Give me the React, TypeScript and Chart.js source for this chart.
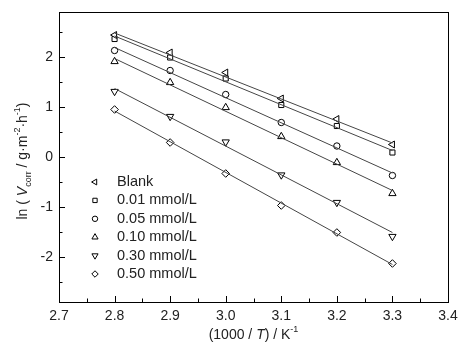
import React, { useEffect, useRef } from 'react';
import { Chart, registerables } from 'chart.js';
import { drawPoint } from 'chart.js/helpers';

Chart.register(...registerables);

const xValues = [2.8, 2.9, 3.0, 3.1, 3.2, 3.3];
const seriesNames = ['Blank', '0.01 mmol/L', '0.05 mmol/L', '0.10 mmol/L', '0.30 mmol/L', '0.50 mmol/L'];
const blank = [2.44, 2.09, 1.69, 1.17, 0.76, 0.25];
const c001 = [2.36, 1.99, 1.57, 1.04, 0.62, 0.09];
const c005 = [2.13, 1.73, 1.25, 0.69, 0.22, -0.37];
const c010 = [1.91, 1.49, 0.99, 0.41, -0.11, -0.73];
const c030 = [1.31, 0.81, 0.3, -0.36, -0.91, -1.59];
const c050 = [0.95, 0.29, -0.33, -0.97, -1.51, -2.13];
const fitX = [2.8, 3.3];
const fitStart = [2.48, 2.42, 2.19, 1.97, 1.37, 0.92];
const fitEnd = [0.28, 0.13, -0.32, -0.67, -1.51, -2.15];
const xMin = 2.7;
const xMax = 3.4;
const yMin = -2.9;
const yMax = 2.9;

const seriesValues = [blank, c001, c005, c010, c030, c050];
const markerStyles = [
  { pointStyle: 'triangle', rotation: 270, radius: 4 },
  { pointStyle: 'rect', rotation: 0, radius: 3.6 },
  { pointStyle: 'circle', rotation: 0, radius: 3.2 },
  { pointStyle: 'triangle', rotation: 0, radius: 4.2 },
  { pointStyle: 'triangle', rotation: 180, radius: 4.2 },
  { pointStyle: 'rectRot', rotation: 0, radius: 3.8 },
];

const FONT = '"Liberation Sans", Arial, sans-serif';
const TEXT = '#222';

type Seg = { t: string; italic?: boolean; sub?: boolean; sup?: boolean };

function drawRich(ctx: CanvasRenderingContext2D, segs: Seg[], cx: number, cy: number, size: number) {
  const small = Math.round(size * 0.64);
  const fontOf = (s: Seg) =>
    `${s.italic ? 'italic ' : ''}${s.sub || s.sup ? small : size}px ${FONT}`;
  let total = 0;
  const widths = segs.map((s) => {
    ctx.font = fontOf(s);
    const w = ctx.measureText(s.t).width;
    total += w;
    return w;
  });
  let x = cx - total / 2;
  ctx.textBaseline = 'middle';
  ctx.textAlign = 'left';
  segs.forEach((s, i) => {
    ctx.font = fontOf(s);
    let dy = 0;
    if (s.sub) dy = size * 0.38;
    if (s.sup) dy = -size * 0.38;
    ctx.fillText(s.t, x, cy + dy);
    x += widths[i];
  });
}

const axisPlugin = {
  id: 'axisDecor',
  afterDraw(chart: any) {
    const ctx: CanvasRenderingContext2D = chart.ctx;
    const { left, right, top, bottom } = chart.chartArea;
    const xs = chart.scales.x;
    const ys = chart.scales.y;
    ctx.save();
    ctx.strokeStyle = '#000';
    ctx.lineWidth = 1;
    ctx.strokeRect(Math.round(left) + 0.5, Math.round(top) + 0.5, Math.round(right - left), Math.round(bottom - top));
    ctx.beginPath();
    // x ticks (inward), every 0.05
    for (let i = 1; i < 14; i++) {
      const v = xMin + i * 0.05;
      const px = Math.round(xs.getPixelForValue(v)) + 0.5;
      const len = i % 2 === 0 ? 6 : 3.5;
      ctx.moveTo(px, bottom);
      ctx.lineTo(px, bottom - len);
    }
    // y ticks (inward), every 0.5
    for (let k = -5; k <= 5; k++) {
      const v = k * 0.5;
      const py = Math.round(ys.getPixelForValue(v)) + 0.5;
      const len = k % 2 === 0 ? 6 : 3.5;
      ctx.moveTo(left, py);
      ctx.lineTo(left + len, py);
    }
    ctx.stroke();

    // legend
    const lx = left + 36;
    const tx = left + 58;
    const ly0 = 182;
    const step = 18.4;
    seriesNames.forEach((name, i) => {
      const y = ly0 + i * step;
      const m = markerStyles[i];
      ctx.fillStyle = '#fff';
      ctx.strokeStyle = '#000';
      ctx.lineWidth = 1;
      drawPoint(ctx, { pointStyle: m.pointStyle, rotation: m.rotation, radius: m.radius * 0.85, borderWidth: 1 } as any, lx, y);
      ctx.fillStyle = TEXT;
      ctx.font = `14.5px ${FONT}`;
      ctx.textAlign = 'left';
      ctx.textBaseline = 'middle';
      ctx.fillText(name, tx, y);
    });

    // axis titles
    ctx.fillStyle = TEXT;
    drawRich(
      ctx,
      [{ t: '(1000 / ' }, { t: 'T', italic: true }, { t: ') / K' }, { t: '-1', sup: true }],
      (left + right) / 2,
      335,
      14
    );
    ctx.save();
    ctx.translate(23, 161);
    ctx.rotate(-Math.PI / 2);
    drawRich(
      ctx,
      [
        { t: 'ln ( ' },
        { t: 'V', italic: true },
        { t: 'corr', sub: true },
        { t: ' / g·m' },
        { t: '-2', sup: true },
        { t: '·h' },
        { t: '-1', sup: true },
        { t: ')' },
      ],
      0,
      0,
      14
    );
    ctx.restore();
    ctx.restore();
  },
};

export default function App() {
  const ref = useRef<HTMLCanvasElement | null>(null);
  useEffect(() => {
    if (!ref.current) return;
    const lineSets = seriesValues.map((_, i) => ({
      label: 'fit ' + seriesNames[i],
      data: fitX.map((x, j) => ({ x, y: j === 0 ? fitStart[i] : fitEnd[i] })),
      showLine: true,
      borderColor: '#454545',
      borderWidth: 1,
      pointRadius: 0,
      fill: false,
    }));
    const pointSets = seriesValues.map((vals, i) => ({
      label: seriesNames[i],
      data: xValues.map((x, j) => ({ x, y: vals[j] })),
      showLine: false,
      pointStyle: markerStyles[i].pointStyle,
      rotation: markerStyles[i].rotation,
      pointRadius: markerStyles[i].radius,
      pointBackgroundColor: '#fff',
      pointBorderColor: '#000',
      pointBorderWidth: 1,
    }));
    const chart = new Chart(ref.current, {
      type: 'scatter',
      data: { datasets: [...lineSets, ...pointSets] as any },
      plugins: [axisPlugin],
      options: {
        animation: false,
        responsive: false,
        events: [],
        layout: { padding: { left: 0, top: 12, right: 22, bottom: 0 } },
        plugins: { legend: { display: false }, tooltip: { enabled: false } },
        scales: {
          x: {
            type: 'linear',
            min: xMin,
            max: xMax,
            grid: { display: false, drawTicks: false },
            border: { display: false },
            ticks: {
              stepSize: 0.1,
              includeBounds: false,
              autoSkip: false,
              maxRotation: 0,
              padding: 6,
              color: TEXT,
              font: { family: FONT, size: 14 },
              callback: (v: any) => Number(v).toFixed(1),
            },
            afterFit: (s: any) => {
              s.height = 52;
              s.paddingLeft = 0;
              s.paddingRight = 0;
            },
          },
          y: {
            type: 'linear',
            min: yMin,
            max: yMax,
            grid: { display: false, drawTicks: false },
            border: { display: false },
            ticks: {
              stepSize: 1,
              includeBounds: false,
              padding: 6,
              color: TEXT,
              font: { family: FONT, size: 14 },
              callback: (v: any) => String(Math.round(Number(v))),
            },
            afterFit: (s: any) => {
              s.width = 59;
              s.paddingTop = 0;
              s.paddingBottom = 0;
            },
          },
        },
      } as any,
    });
    return () => chart.destroy();
  }, []);
  return (
    <div style={{ position: 'absolute', left: 0, top: 0, width: 470, height: 354, background: '#fff' }}>
      <canvas ref={ref} width={470} height={354} style={{ display: 'block' }} />
    </div>
  );
}
